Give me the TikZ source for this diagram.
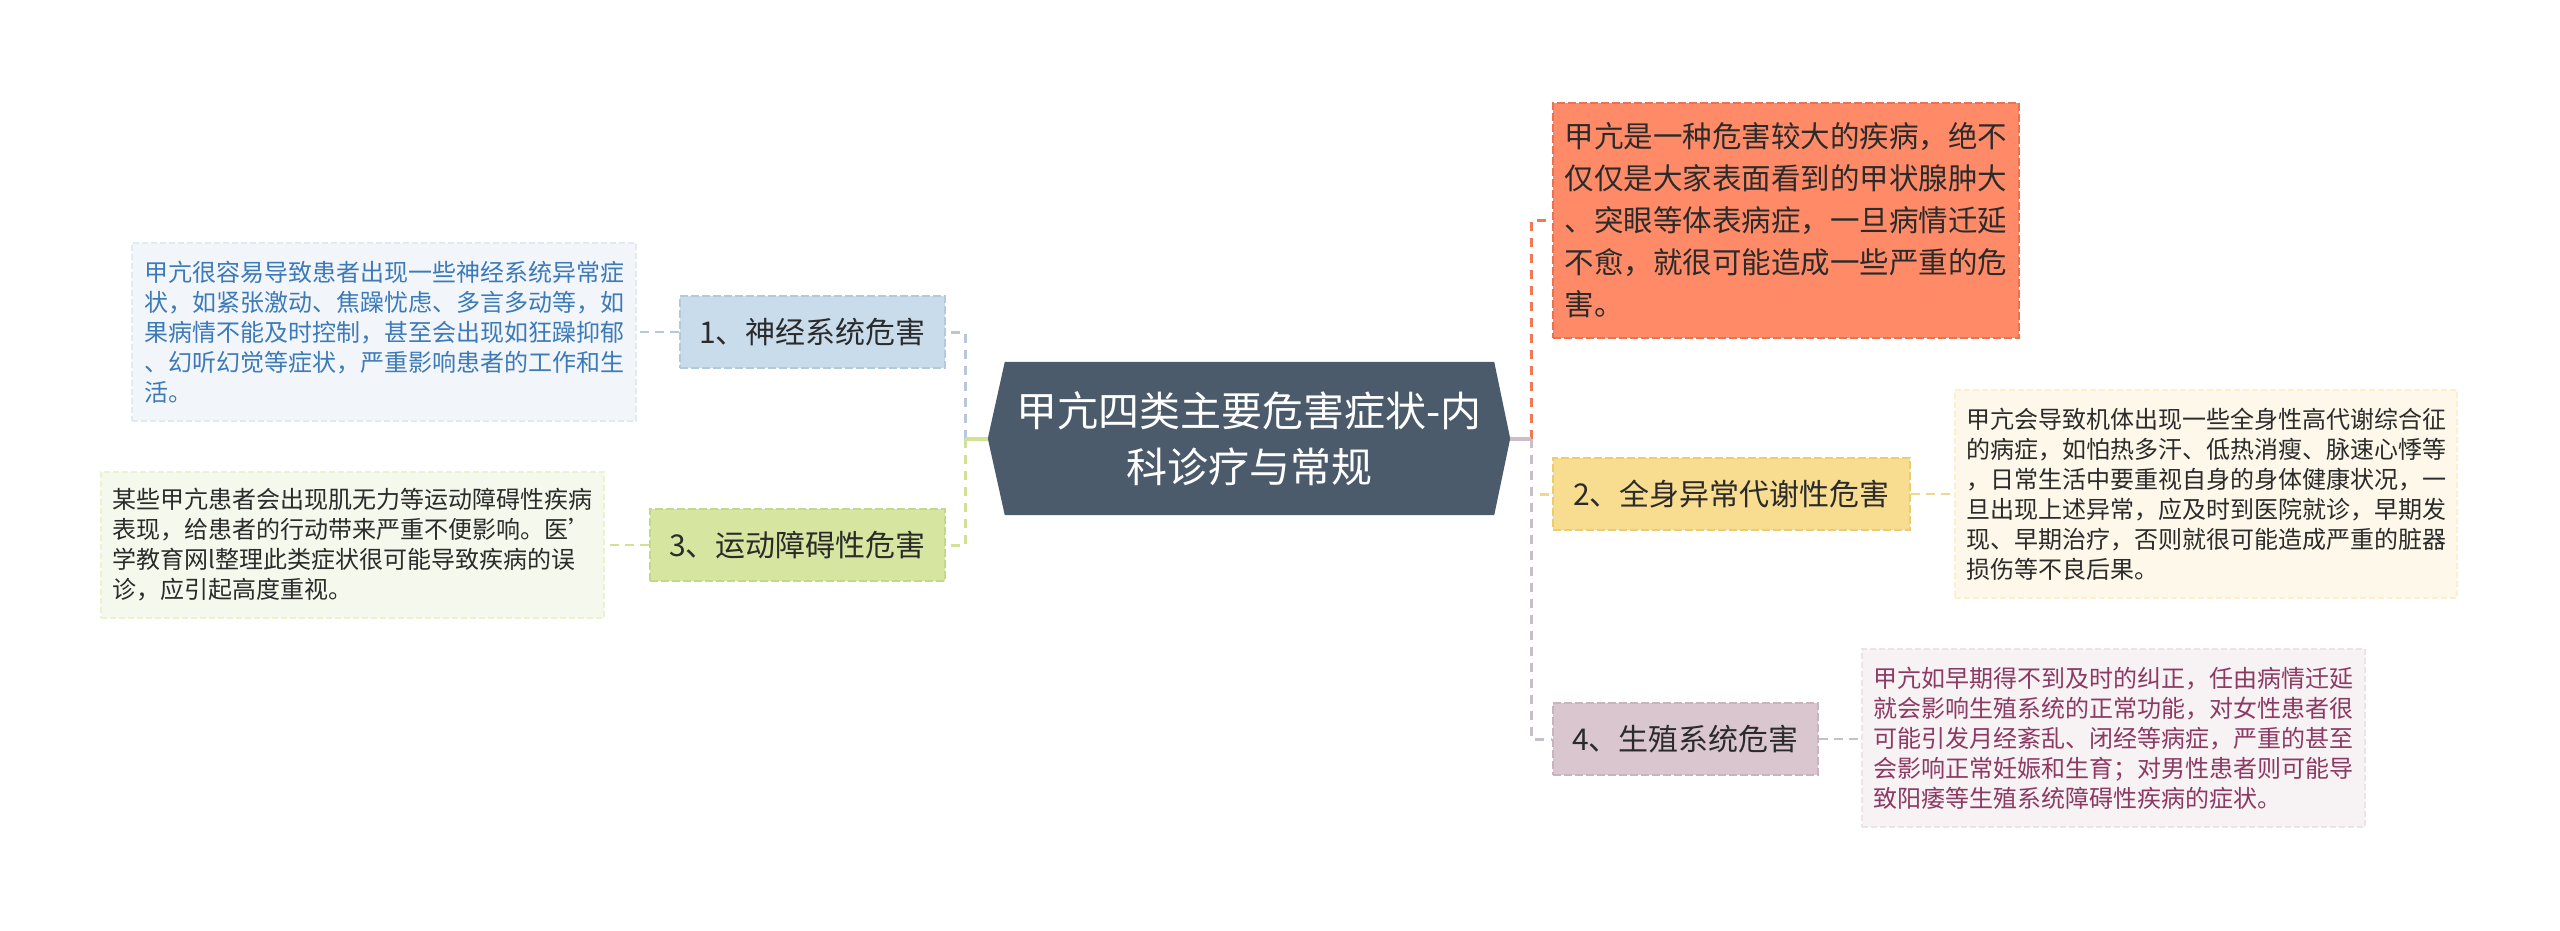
\documentclass[tikz,border=0pt]{standalone}
\usepackage{fontspec}
\setmainfont{Noto Sans CJK SC}
\usetikzlibrary{backgrounds}
\definecolor{cfill}{HTML}{4B5B6B}
\definecolor{n1fill}{HTML}{C9DCEC}
\definecolor{n1draw}{HTML}{B3C9DE}
\definecolor{n1line}{HTML}{B8C8DB}
\definecolor{l1fill}{HTML}{F2F6FA}
\definecolor{l1text}{HTML}{3D7AB8}
\definecolor{n3fill}{HTML}{D6E6A0}
\definecolor{n3draw}{HTML}{C3D888}
\definecolor{n3line}{HTML}{D0E296}
\definecolor{l3fill}{HTML}{F5F8EC}
\definecolor{ofill}{HTML}{FE8A68}
\definecolor{odraw}{HTML}{EC7150}
\definecolor{oline}{HTML}{EF7A58}
\definecolor{n2fill}{HTML}{F8DC90}
\definecolor{n2draw}{HTML}{EBCB74}
\definecolor{n2line}{HTML}{F2D88C}
\definecolor{l2fill}{HTML}{FDF8EA}
\definecolor{n4fill}{HTML}{D9C6CF}
\definecolor{n4draw}{HTML}{C9B3BF}
\definecolor{n4line}{HTML}{CDBDC8}
\definecolor{l4fill}{HTML}{F7F2F4}
\definecolor{l4text}{HTML}{8C3A63}
\definecolor{maintext}{HTML}{2B2B2B}
\begin{document}
\begin{tikzpicture}[x=1pt,y=-1pt,
  mainbox/.style={inner sep=0, align=center, font=\fontsize{30}{36}\selectfont, text=maintext, line width=1.5, dash pattern=on 8 off 3},
  leafbox/.style={inner sep=0, align=left, font=\fontsize{24}{30}\selectfont, line width=1.2, dash pattern=on 6 off 3},
  trunk/.style={line width=3, dash pattern=on 9 off 7},
  stub/.style={line width=4},
  leafline/.style={line width=2, dash pattern=on 9 off 6}]
\useasboundingbox (0,0) rectangle (2560,930);

% center
\node[inner sep=0, minimum width=522, minimum height=153, align=center,
      font=\fontsize{41}{56}\selectfont, text=white] (c) at (1249,438.5)
  {甲亢四类主要危害症状-内\\科诊疗与常规};
\begin{scope}[on background layer]
\fill[white] (0,0) rectangle (2560,930);
\fill[cfill] (c.west) -- ([xshift=17]c.north west) -- ([xshift=-16]c.north east)
  -- (c.east) -- ([xshift=-16]c.south east) -- ([xshift=17]c.south west) -- cycle;
\end{scope}

% main branches
\node[mainbox, fill=n1fill, draw=n1draw, minimum width=265, minimum height=72] (n1) at (812.5,332) {1、神经系统危害};
\node[mainbox, fill=n3fill, draw=n3draw, minimum width=295, minimum height=72] (n3) at (797.5,545) {3、运动障碍性危害};
\node[mainbox, fill=ofill, draw=odraw, minimum width=466, minimum height=235, align=left,
      font=\fontsize{29.5}{42}\selectfont] (o) at (1786,220.5)
  {甲亢是一种危害较大的疾病，绝不\\仅仅是大家表面看到的甲状腺肿大\\、突眼等体表病症，一旦病情迁延\\不愈，就很可能造成一些严重的危\\害。};
\node[mainbox, fill=n2fill, draw=n2draw, minimum width=357, minimum height=72] (n2) at (1731.5,494) {2、全身异常代谢性危害};
\node[mainbox, fill=n4fill, draw=n4draw, minimum width=265, minimum height=72] (n4) at (1685.5,739) {4、生殖系统危害};

% leaves
\node[leafbox, fill=l1fill, draw=n1fill!60, text=l1text, minimum width=504, minimum height=178] (l1) at (384,332)
  {甲亢很容易导致患者出现一些神经系统异常症\\状，如紧张激动、焦躁忧虑、多言多动等，如\\果病情不能及时控制，甚至会出现如狂躁抑郁\\、幻听幻觉等症状，严重影响患者的工作和生\\活。};
\node[leafbox, fill=l3fill, draw=n3fill!50, text=maintext, minimum width=503, minimum height=146] (l3) at (352.5,545)
  {某些甲亢患者会出现肌无力等运动障碍性疾病\\表现，给患者的行动带来严重不便影响。医'\\学教育网l整理此类症状很可能导致疾病的误\\诊，应引起高度重视。};
\node[leafbox, fill=l2fill, draw=n2fill!45, text=maintext, minimum width=502, minimum height=208] (l2) at (2206,494)
  {甲亢会导致机体出现一些全身性高代谢综合征\\的病症，如怕热多汗、低热消瘦、脉速心悸等\\，日常生活中要重视自身的身体健康状况，一\\旦出现上述异常，应及时到医院就诊，早期发\\现、早期治疗，否则就很可能造成严重的脏器\\损伤等不良后果。};
\node[leafbox, fill=l4fill, draw=n4fill!50, text=l4text, minimum width=503, minimum height=178] (l4) at (2113.5,738)
  {甲亢如早期得不到及时的纠正，任由病情迁延\\就会影响生殖系统的正常功能，对女性患者很\\可能引发月经紊乱、闭经等病症，严重的甚至\\会影响正常妊娠和生育；对男性患者则可能导\\致阳痿等生殖系统障碍性疾病的症状。};

% trunks
\coordinate (tl) at (965,438.5);
\coordinate (tr) at (1531,438.5);
\draw[trunk, n1line] (tl) |- (n1.east);
\draw[trunk, n3line] (tl) |- (n3.east);
\draw[stub, n3line] (c.west) -- (tl);
\draw[trunk, oline] (tr) |- (o.west);
\draw[trunk, n2line] (tr) |- (n2.west);
\draw[trunk, n4line] (tr) |- (n4.west);
\draw[stub, n4line] (c.east) -- (tr);

% leaf connectors
\draw[leafline, n1line] (n1.west) -- (l1.east);
\draw[leafline, n3line] (n3.west) -- (l3.east);
\draw[leafline, n2line] (n2.east) -- (l2.west);
\draw[leafline, n4line] (n4.east) -- (l4.west |- n4.east);
\end{tikzpicture}
\end{document}
